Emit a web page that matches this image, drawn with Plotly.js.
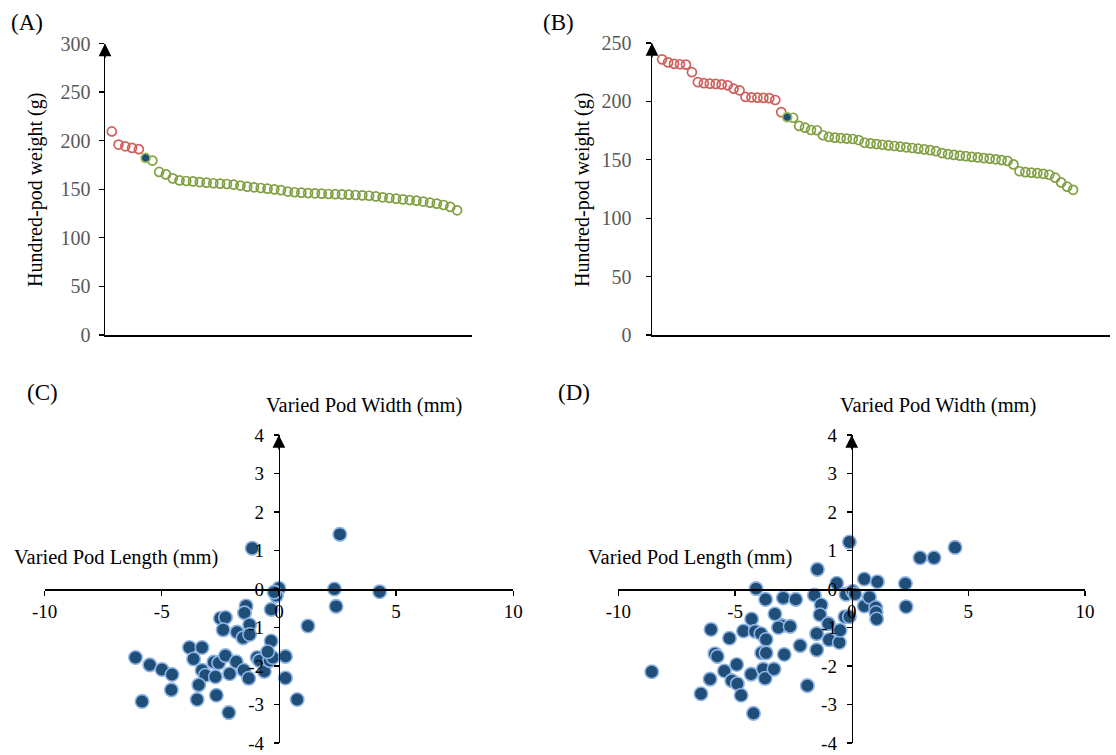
<!DOCTYPE html>
<html>
<head>
<meta charset="utf-8">
<script src="https://cdn.plot.ly/plotly-3.0.1.min.js"></script>
<style>html,body{margin:0;padding:0;background:#fff;}#chart{width:1116px;height:755px;}</style>
</head>
<body>
<div id="chart"></div>
<script>
// ---------- Data ----------
// Panel A: hundred-pod weight (g), sorted
const aHigh = [209.5, 196.0, 194.2, 192.5, 191.2];
const aCheck = [182.2];
const aLow = [179.5, 167.8, 165.3, 161.2, 159.1, 158.5, 158.1, 157.4, 156.8, 156.2,
  155.8, 155.4, 154.8, 153.8, 152.7, 152.0, 151.3, 150.6, 149.9, 149.0,
  147.6, 146.9, 146.5, 146.1, 145.8, 145.4, 145.1, 144.9, 144.7, 144.4,
  144.1, 143.7, 143.3, 142.6, 141.7, 141.0, 140.3, 139.6, 138.9, 138.2,
  137.3, 136.2, 135.2, 133.8, 131.8, 128.3];

// Panel B: hundred-pod weight (g), sorted
const bHigh = [236.0, 233.4, 232.2, 231.8, 231.5, 225.0, 216.5, 215.6, 215.2, 215.0,
  214.5, 213.8, 210.9, 209.5, 203.8, 203.5, 203.2, 203.0, 202.8, 201.2, 190.8];
const bCheck = [186.5];
const bLow = [186.0, 179.0, 177.5, 175.5, 175.3, 171.0, 169.6, 169.0, 168.6, 168.2,
  167.8, 166.9, 164.6, 164.0, 163.5, 162.9, 162.3, 161.8, 161.2, 160.7,
  160.1, 159.5, 158.9, 158.2, 157.4, 155.8, 154.8, 154.2, 153.6, 153.1,
  152.5, 152.0, 151.5, 151.0, 150.4, 149.8, 149.0, 146.0, 140.2, 139.4,
  139.0, 138.6, 138.0, 137.2, 134.7, 130.6, 127.0, 124.3];

// Panel C: varied pod length (mm) vs varied pod width (mm)
const lengthC = [-1.14, 2.60, 0.00, -0.11, 2.37, 4.30, 2.44, -0.33, -1.40, -1.47,
  -2.50, -2.28, -2.38, -1.79, -1.53, -1.25, -1.25, 1.24, -0.33, -3.82,
  -3.28, -3.64, -6.12, -5.51, -4.99, -4.56, -4.59, -5.84, -3.28, -3.14,
  -2.71, -3.42, -3.49, -2.67, -2.14, -2.78, -2.57, -2.28, -2.10, -1.82,
  -1.50, -1.29, -0.93, -0.83, -0.62, -0.39, -0.26, 0.28, 0.28, 0.78,
  -0.48, -0.20];
const widthC = [1.06, 1.42, 0.02, -0.17, 0.00, -0.07, -0.45, -0.53, -0.44, -0.62,
  -0.76, -0.74, -1.06, -1.12, -1.27, -0.93, -1.18, -0.96, -1.35, -1.52,
  -1.52, -1.82, -1.78, -1.97, -2.09, -2.22, -2.62, -2.92, -2.11, -2.24,
  -2.28, -2.49, -2.87, -2.76, -3.21, -1.90, -1.92, -1.73, -2.20, -1.89,
  -2.11, -2.32, -1.78, -1.86, -2.14, -1.86, -1.78, -1.75, -2.31, -2.87,
  -1.63, -0.08];

// Panel D: varied pod length (mm) vs varied pod width (mm)
const lengthD = [-0.10, -1.47, -0.64, 0.54, 1.10, 2.30, 2.33, 2.93, 3.53, 4.43,
  -4.10, -3.69, -2.93, -2.40, -1.60, -1.31, -1.36, -1.00, -0.24, 0.04,
  0.14, -0.29, -0.10, 0.54, 0.76, 1.03, 1.04, 1.07, -3.29, -4.29,
  -4.64, -4.14, -3.89, -3.67, -3.00, -3.14, -2.64, -6.03, -5.24, -5.86,
  -5.76, -4.93, -5.46, -6.07, -6.46, -5.14, -4.90, -4.74, -4.31, -4.21,
  -3.86, -3.67, -3.79, -3.71, -3.33, -2.89, -2.21, -1.90, -1.50, -1.50,
  -0.97, -0.53, -0.50, -8.57];
const widthD = [1.22, 0.51, 0.15, 0.26, 0.19, 0.14, -0.46, 0.81, 0.81, 1.08,
  0.01, -0.27, -0.23, -0.27, -0.16, -0.41, -0.67, -0.90, -0.14, -0.06,
  -0.13, -0.72, -0.72, -0.44, -0.21, -0.48, -0.61, -0.78, -0.65, -0.78,
  -1.09, -1.10, -1.16, -1.31, -0.95, -1.00, -0.97, -1.05, -1.28, -1.68,
  -1.75, -1.96, -2.13, -2.34, -2.72, -2.38, -2.46, -2.76, -2.21, -3.23,
  -1.66, -1.66, -2.08, -2.32, -2.08, -1.70, -1.47, -2.51, -1.16, -1.58,
  -1.32, -1.39, -1.07, -2.15];

const weightTicksA = [0, 50, 100, 150, 200, 250, 300];
const weightTicksB = [0, 50, 100, 150, 200, 250];
const lengthTicks = [-10, -5, 0, 5, 10];
const lengthTickText = ['-10', '-5', '0', '5', '10'];
const widthTicks = [-4, -3, -2, -1, 0, 1, 2, 3, 4];
const widthTickText = ['-4', '-3', '-2', '-1', '0', '1', '2', '3', '4'];

// ---------- Helpers ----------
function seq(start, n) { const o = []; for (let i = 0; i < n; i++) o.push(start + i); return o; }

const RED = '#D0605C', GREEN = '#80A043', NAVY = '#1F4E79';
const SERIF = 'Liberation Serif, Times New Roman, serif';
const W = 1116, H = 755;
const px = v => v / W, py = v => 1 - v / H;

function weightTraces(high, check, low, xa, ya) {
  const xHigh = seq(1, high.length);
  const xCheck = seq(high.length + 1, check.length);
  const xLow = seq(high.length + check.length + 1, low.length);
  return [
    {x: xLow, y: low, xaxis: xa, yaxis: ya, mode: 'markers', type: 'scatter',
     marker: {symbol: 'circle-open', size: 9, color: GREEN, line: {width: 1.7}}},
    {x: xHigh, y: high, xaxis: xa, yaxis: ya, mode: 'markers', type: 'scatter',
     marker: {symbol: 'circle-open', size: 9, color: RED, line: {width: 1.7}}},
    {x: xCheck, y: check, xaxis: xa, yaxis: ya, mode: 'markers', type: 'scatter',
     marker: {symbol: 'circle', size: 9, color: NAVY, line: {width: 1.7, color: '#9BBB59'}}}
  ];
}

const traces = [
  ...weightTraces(aHigh, aCheck, aLow, 'x', 'y'),
  ...weightTraces(bHigh, bCheck, bLow, 'x2', 'y2'),
  {x: lengthC, y: widthC, xaxis: 'x3', yaxis: 'y3', mode: 'markers', type: 'scatter',
   marker: {size: 13.5, color: NAVY, line: {width: 1.6, color: '#8FB4E3'}}},
  {x: lengthD, y: widthD, xaxis: 'x4', yaxis: 'y4', mode: 'markers', type: 'scatter',
   marker: {size: 13.5, color: NAVY, line: {width: 1.6, color: '#8FB4E3'}}}
];

const weightY = (domain, range, ticks, standoff) => ({
  domain, range, tickvals: ticks, showgrid: false, zeroline: false,
  showline: true, linecolor: '#000', linewidth: 1.5,
  ticks: 'outside', ticklen: 5, tickwidth: 1.3, tickcolor: '#000',
  ticklabelstandoff: standoff, ticklabeloverflow: 'allow',
  tickfont: {family: SERIF, size: 20, color: '#595959'}
});
const weightX = (domain, range, anchor) => ({
  domain, range, anchor, showgrid: false, zeroline: false, showline: true,
  linecolor: '#000', linewidth: 1.5, ticks: '', showticklabels: false
});
const crossX = (domain, pos) => ({
  domain, range: [-10, 10], tickvals: lengthTicks, ticktext: lengthTickText,
  anchor: 'free', position: pos,
  showgrid: false, zeroline: false, showline: true, linecolor: '#000', linewidth: 1.5,
  ticks: 'outside', ticklen: 5, tickwidth: 1.3, tickcolor: '#000', ticklabelstandoff: 0,
  ticklabeloverflow: 'allow',
  tickfont: {family: SERIF, size: 19, color: '#000'}
});
const crossY = (domain, pos) => ({
  domain, range: [-4, 4], tickvals: widthTicks, ticktext: widthTickText,
  anchor: 'free', position: pos,
  showgrid: false, zeroline: false, showline: true, linecolor: '#000', linewidth: 1.5,
  ticks: 'outside', ticklen: 5, tickwidth: 1.3, tickcolor: '#000', ticklabelstandoff: 6,
  ticklabeloverflow: 'allow',
  tickfont: {family: SERIF, size: 19, color: '#000'}
});

function arrowUp(xref, yref, x, y) {
  return {xref, yref, x, y, ax: 0, ay: 16, text: '', showarrow: true,
    arrowhead: 2, arrowsize: 1.7, arrowwidth: 1.5, arrowcolor: '#000', standoff: 0};
}
function label(text, x, y, size, extra) {
  return Object.assign({xref: 'paper', yref: 'paper', x: px(x), y: py(y), text,
    showarrow: false, xanchor: 'center', yanchor: 'middle',
    font: {family: SERIF, size, color: '#000'}}, extra || {});
}

const layout = {
  width: W, height: H, margin: {l: 0, r: 0, t: 0, b: 0},
  paper_bgcolor: '#fff', plot_bgcolor: 'rgba(0,0,0,0)', showlegend: false,
  xaxis: weightX([px(105), px(472)], [0, 54.2], 'y'),
  yaxis: weightY([py(335), py(43.5)], [0, 300], weightTicksA, 4),
  xaxis2: weightX([px(652), px(1110)], [-0.7, 76.2], 'y2'),
  yaxis2: Object.assign(weightY([py(335), py(43)], [0, 250], weightTicksB, 10), {anchor: 'x2'}),
  xaxis3: crossX([px(44.6), px(513.2)], py(589)),
  yaxis3: crossY([py(743), py(435)], px(278.9)),
  xaxis4: crossX([px(618.4), px(1085)], py(589)),
  yaxis4: crossY([py(743), py(435)], px(851.7)),
  annotations: [
    arrowUp('x', 'y', 0, 300),
    arrowUp('x2', 'y2', -0.7, 250),
    arrowUp('x3', 'y3', 0, 4),
    arrowUp('x4', 'y4', 0, 4),
    label('(A)', 27, 22, 23),
    label('(B)', 558, 22, 23),
    label('(C)', 42, 392, 23),
    label('(D)', 574, 392, 23),
    label('Hundred-pod weight (g)', 36, 190, 20, {textangle: -90}),
    label('Hundred-pod weight (g)', 583, 190, 20, {textangle: -90}),
    label('Varied Pod Width (mm)', 364, 405, 20.5),
    label('Varied Pod Length (mm)', 116, 557, 20.5),
    label('Varied Pod Width (mm)', 938, 405, 20.5),
    label('Varied Pod Length (mm)', 690, 557, 20.5)
  ]
};

Plotly.newPlot('chart', traces, layout, {displayModeBar: false, staticPlot: true});
</script>
</body>
</html>
